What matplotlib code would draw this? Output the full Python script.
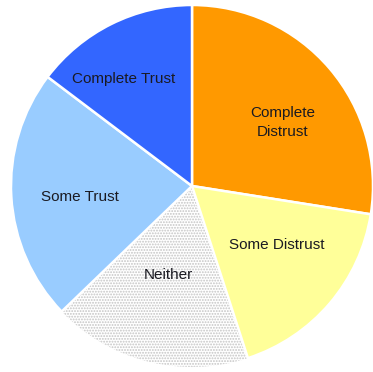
import numpy as np
import matplotlib.pyplot as plt

plt.rcParams['font.family'] = ['Liberation Sans', 'DejaVu Sans']
plt.rcParams['hatch.linewidth'] = 0.9

categorias = ["Complete\nDistrust", "Some Distrust", "Neither", "Some Trust", "Complete Trust"]
porcentajes = [27.5, 17.5, 17.8, 22.5, 14.7]
colores = ["#FF9900", "#FFFF99", "#FFFFFF", "#99CCFF", "#3366FF"]

# posicion de cada etiqueta: radio relativo y angulo (grados)
radios_etiq = [0.61, 0.57, 0.51, 0.62, 0.70]
angulos_etiq = [35, -34.8, -105, 185.6, 122.7]

fig = plt.figure(figsize=(3.73, 3.72), dpi=100)
# ejes centrados en el pastel
r = 181 / 373
ax = fig.add_axes([192 / 373 - r, 1 - 186 / 372 - 181 / 372, 2 * r, 2 * 181 / 372])

cunas, textos = ax.pie(porcentajes, labels=categorias, colors=colores, startangle=90,
                       counterclock=False, labeldistance=0.6,
                       wedgeprops=dict(edgecolor='white', linewidth=1.8),
                       textprops=dict(fontsize=11, color='#1a1a22'))

# "Neither" con punteado gris fino
cunas[2].set_edgecolor('#c4c4c4')
cunas[2].set_linewidth(0)
cunas[2].set_hatch('......')
cunas[2].set_zorder(0)

for t, rr, ang in zip(textos, radios_etiq, angulos_etiq):
    a = np.deg2rad(ang)
    t.set_position((rr * np.cos(a), rr * np.sin(a)))
    t.set_horizontalalignment('center')
    t.set_verticalalignment('center')
    t.set_multialignment('center')
    t.set_linespacing(1.5)

ax.set_xlim(-1, 1)
ax.set_ylim(-1, 1)
ax.set_aspect('auto')
plt.savefig("out.png")
